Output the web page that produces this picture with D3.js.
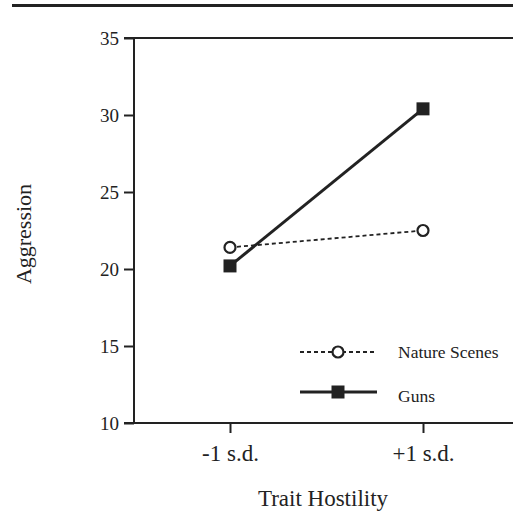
<!DOCTYPE html>
<html>
<head>
<meta charset="utf-8">
<script src="https://cdn.jsdelivr.net/npm/d3@7"></script>
<style>
  body { margin: 0; background: #fff; }
  svg text { font-family: "Liberation Serif", "DejaVu Serif", serif; fill: #222; }
</style>
</head>
<body>
<div id="chart"></div>
<script>
// data
const levels = ['-1 s.d.', '+1 s.d.'];
const natureScenes = [21.4, 22.5];
const guns = [20.2, 30.4];
const yTicks = [10, 15, 20, 25, 30, 35];

const width = 513, height = 513;
const ink = '#222';

const svg = d3.select('#chart').append('svg')
    .attr('width', width)
    .attr('height', height);

let x = d3.scalePoint().domain(levels).range([230, 423]);
let y = d3.scaleLinear().domain([10, 35]).range([423, 38]);

// rule at the top of the page
svg.append('line')
    .attr('x1', 12).attr('x2', width)
    .attr('y1', 5.5).attr('y2', 5.5)
    .attr('stroke', ink).attr('stroke-width', 3);

// y axis
let yAxis = svg.append('g')
    .attr('transform', 'translate(134,0)')
    .call(d3.axisLeft(y).tickValues(yTicks).tickSize(10).tickSizeOuter(0).tickFormat(d3.format('d')));
yAxis.attr('font-family', null).attr('font-size', null);
yAxis.select('.domain').remove();
yAxis.selectAll('.tick line').attr('stroke', ink).attr('stroke-width', 2);
yAxis.selectAll('.tick text')
    .attr('x', -15)
    .attr('font-family', '"Liberation Serif", serif')
    .attr('font-size', 19)
    .attr('fill', ink);

svg.append('line')
    .attr('x1', 134).attr('x2', 134)
    .attr('y1', y(35)).attr('y2', y(10))
    .attr('stroke', ink).attr('stroke-width', 2);

// top frame line
svg.append('line')
    .attr('x1', 124).attr('x2', width)
    .attr('y1', y(35)).attr('y2', y(35))
    .attr('stroke', ink).attr('stroke-width', 2);

// x axis
let xAxis = svg.append('g')
    .attr('transform', 'translate(0,' + y(10) + ')')
    .call(d3.axisBottom(x).tickSize(10).tickSizeOuter(0).tickPadding(12));
xAxis.attr('font-family', null).attr('font-size', null);
xAxis.select('.domain').remove();
xAxis.selectAll('.tick line').attr('stroke', ink).attr('stroke-width', 2);
xAxis.selectAll('.tick text')
    .attr('font-family', '"Liberation Serif", serif')
    .attr('font-size', 23)
    .attr('fill', ink);

svg.append('line')
    .attr('x1', 124).attr('x2', width)
    .attr('y1', y(10)).attr('y2', y(10))
    .attr('stroke', ink).attr('stroke-width', 2);

// axis titles
svg.append('text')
    .attr('x', 323).attr('y', 506)
    .attr('text-anchor', 'middle')
    .style('font-size', '23px')
    .text('Trait Hostility');

svg.append('text')
    .attr('transform', 'translate(31,234) rotate(-90)')
    .attr('text-anchor', 'middle')
    .style('font-size', '22px')
    .text('Aggression');

// lines
let line = d3.line()
    .x((d, i) => x(levels[i]))
    .y(d => y(d));

svg.append('path')
    .datum(natureScenes)
    .attr('d', line)
    .attr('fill', 'none')
    .attr('stroke', ink)
    .attr('stroke-width', 1.8)
    .attr('stroke-dasharray', '4,3');

svg.append('path')
    .datum(guns)
    .attr('d', line)
    .attr('fill', 'none')
    .attr('stroke', ink)
    .attr('stroke-width', 3);

svg.selectAll('.nature-pt')
    .data(natureScenes)
    .enter().append('circle')
    .attr('cx', (d, i) => x(levels[i]))
    .attr('cy', d => y(d))
    .attr('r', 5.5)
    .attr('fill', '#fff')
    .attr('stroke', ink)
    .attr('stroke-width', 2.2);

svg.selectAll('.guns-pt')
    .data(guns)
    .enter().append('rect')
    .attr('x', (d, i) => x(levels[i]) - 6.5)
    .attr('y', d => y(d) - 6.5)
    .attr('width', 13).attr('height', 13)
    .attr('fill', ink);

// legend
let legend = svg.append('g');
legend.append('line')
    .attr('x1', 300).attr('x2', 376)
    .attr('y1', 352).attr('y2', 352)
    .attr('stroke', ink).attr('stroke-width', 1.8)
    .attr('stroke-dasharray', '4,3');
legend.append('circle')
    .attr('cx', 338).attr('cy', 352).attr('r', 5.5)
    .attr('fill', '#fff').attr('stroke', ink).attr('stroke-width', 2.2);
legend.append('text')
    .attr('x', 398).attr('y', 358)
    .style('font-size', '17.5px')
    .text('Nature Scenes');

legend.append('line')
    .attr('x1', 300).attr('x2', 377)
    .attr('y1', 392).attr('y2', 392)
    .attr('stroke', ink).attr('stroke-width', 3);
legend.append('rect')
    .attr('x', 331.5).attr('y', 385.5)
    .attr('width', 13).attr('height', 13)
    .attr('fill', ink);
legend.append('text')
    .attr('x', 398).attr('y', 402)
    .style('font-size', '17.5px')
    .text('Guns');
</script>
</body>
</html>
